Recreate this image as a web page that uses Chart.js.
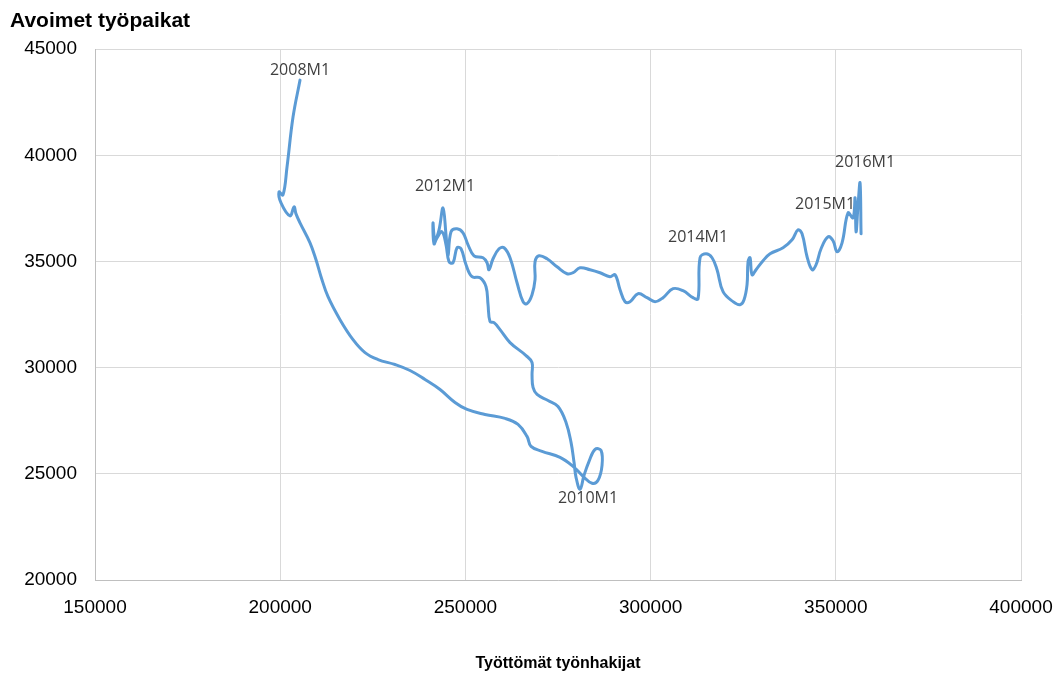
<!DOCTYPE html>
<html lang="fi">
<head>
<meta charset="utf-8">
<title>Beveridge-käyrä</title>
<script src="https://cdn.jsdelivr.net/npm/chart.js@4.4.1/dist/chart.umd.min.js"></script>
<style>
    html, body { margin: 0; padding: 0; background: #ffffff; }
    #chart-wrap { position: relative; width: 1061px; height: 675px; }
</style>
</head>
<body>
<div id="chart-wrap"><canvas id="beveridge-chart"></canvas></div>
<script>
// Työttömät työnhakijat (x) ja avoimet työpaikat (y), luettu kuvasta
const unemployed = [
    205350, 203460, 201840, 200760, 199680, 200220, 202650, 203730, 204270, 205350,
    208050, 209670, 211020, 212910, 216150, 219660, 222900, 226410, 231000, 235050,
    239100, 243150, 247200, 250440, 255300, 260700, 264210, 266640, 267720, 270690,
    275550, 279060, 281760, 284190, 285810, 286890, 286620, 285000, 283380, 282030,
    280950, 279870, 279330, 278520, 277170, 275010, 272310, 269340, 268260, 267990,
    267990, 266370, 262050, 259350, 257730, 256650, 256110, 255570, 253950, 251790,
    250170, 248820, 247740, 246660, 245580, 244770, 243690, 242340, 241530, 241260,
    241800, 242880, 243960, 244770, 245310, 246120, 247740, 249360, 250710, 252330,
    254760, 255840, 256380, 257460, 259080, 260430, 262050, 263940, 265560, 266640,
    267990, 268800, 268800, 269880, 272040, 274740, 277440, 279060, 280950, 283650,
    286350, 289050, 290400, 291750, 293100, 294450, 296610, 299040, 301200, 303360,
    306060, 308760, 311460, 312810, 313350, 314970, 316590, 317940, 319560, 322260,
    324150, 325230, 326040, 326310, 326850, 327390, 328470, 330360, 332250, 335760,
    338190, 339810, 340890, 342240, 343590, 344670, 346020, 347910, 349260, 350340,
    351690, 353310, 354660, 355200, 355470, 356010, 356550, 356820
];
const vacancies = [
    43543, 41804, 39454, 38138, 38279, 37762, 37151, 37574, 37245, 36822,
    35882, 35083, 34284, 33344, 32263, 31323, 30712, 30383, 30148, 29866,
    29443, 28973, 28362, 28033, 27798, 27610, 27328, 26764, 26294, 26059,
    25777, 25354, 24884, 24555, 24696, 25401, 26106, 26153, 25589, 24931,
    24273, 24837, 25542, 26482, 27422, 28174, 28456, 28738, 29067, 29678,
    30242, 30571, 31182, 31793, 32122, 32169, 32968, 33814, 34237, 34284,
    34848, 35600, 35647, 34942, 34989, 35788, 36399, 36117, 35835, 36822,
    36023, 36493, 37527, 36258, 35271, 36399, 36540, 36352, 35788, 35271,
    35177, 34942, 34613, 35130, 35600, 35647, 35177, 34002, 33109, 33015,
    33438, 34143, 34989, 35271, 35130, 34754, 34425, 34472, 34707, 34613,
    34472, 34284, 34378, 33673, 33109, 33109, 33485, 33297, 33109, 33297,
    33720, 33626, 33297, 33250, 35177, 35365, 35177, 34613, 33579, 33109,
    32968, 33203, 33908, 34989, 35177, 34378, 34613, 35036, 35365, 35647,
    36023, 36493, 36305, 35224, 34613, 34848, 35600, 36164, 35976, 35459,
    35882, 37292, 37057, 37997, 36399, 37668, 38702, 36305
];

// Kuukausimerkinnät ja niiden pisteet
const pointLabels = ['2008M1', '2010M1', '2012M1', '2014M1', '2015M1', '2016M1'];
const labelIndex = [0, 40, 72, 114, 137, 146];

// Akselien jaotus
const xTicks = [150000, 200000, 250000, 300000, 350000, 400000];
const yTicks = [20000, 25000, 30000, 35000, 40000, 45000];

const points = unemployed.map(function(x, i) {
    return { x: x, y: vacancies[i] };
});

/**
 * Piirtää kuukausimerkinnät viivan viereen
 */
const monthLabelPlugin = {
    id: 'monthLabels',
    afterDatasetsDraw: function(chart, args, opts) {
        const meta = chart.getDatasetMeta(0);
        const ctx = chart.ctx;
        ctx.save();
        ctx.font = opts.font;
        ctx.fillStyle = opts.color;
        ctx.textAlign = 'center';
        ctx.textBaseline = 'middle';
        pointLabels.forEach(function(text, k) {
            const el = meta.data[labelIndex[k]];
            if (!el) return;
            const off = opts.offsets[k] || [0, -20];
            ctx.fillText(text, el.x + off[0], el.y + off[1]);
        });
        ctx.restore();
    }
};

new Chart(document.getElementById('beveridge-chart'), {
    type: 'scatter',
    data: {
        datasets: [{
            data: points,
            showLine: true,
            borderColor: '#5b9bd5',
            backgroundColor: '#5b9bd5',
            borderWidth: 3,
            pointRadius: 0,
            pointHoverRadius: 0,
            tension: 0.4,
            borderCapStyle: 'round',
            borderJoinStyle: 'round'
        }]
    },
    options: {
        responsive: true,
        maintainAspectRatio: false,
        animation: false,
        layout: {
            padding: { left: 10, right: 40, top: 0, bottom: 0 }
        },
        plugins: {
            legend: { display: false },
            tooltip: { enabled: false },
            title: {
                display: true,
                text: 'Avoimet työpaikat',
                align: 'start',
                color: '#000000',
                font: { family: 'Liberation Sans, Arial, sans-serif', size: 21, weight: 'bold' },
                padding: { top: 9, bottom: 15 }
            },
            monthLabels: {
                font: '16px "Open Sans", sans-serif',
                color: '#404040',
                offsets: [[0, -10], [8, 9], [2, -21], [-2, -20], [-3, -32], [5, -20]]
            }
        },
        scales: {
            x: {
                type: 'linear',
                min: xTicks[0],
                max: xTicks[xTicks.length - 1],
                afterBuildTicks: function(axis) {
                    axis.ticks = xTicks.map(function(v) { return { value: v }; });
                },
                afterFit: function(axis) {
                    axis.paddingLeft = 0;
                    axis.paddingRight = 0;
                },
                grid: { color: '#d9d9d9', drawTicks: false },
                border: { color: '#bfbfbf' },
                ticks: {
                    color: '#000000',
                    padding: 16,
                    maxRotation: 0,
                    font: { family: 'Liberation Sans, Arial, sans-serif', size: 19 },
                    callback: function(v) { return String(v); }
                },
                title: {
                    display: true,
                    text: 'Työttömät työnhakijat',
                    color: '#000000',
                    font: { family: 'Liberation Sans, Arial, sans-serif', size: 16, weight: 'bold' },
                    padding: { top: 19, bottom: 2 }
                }
            },
            y: {
                type: 'linear',
                min: yTicks[0],
                max: yTicks[yTicks.length - 1],
                afterBuildTicks: function(axis) {
                    axis.ticks = yTicks.map(function(v) { return { value: v }; });
                },
                afterFit: function(axis) {
                    axis.width = 85;
                },
                grid: { color: '#d9d9d9', drawTicks: false },
                border: { color: '#bfbfbf' },
                ticks: {
                    color: '#000000',
                    padding: 18,
                    font: { family: 'Liberation Sans, Arial, sans-serif', size: 19 },
                    callback: function(v) { return String(v); }
                }
            }
        }
    },
    plugins: [monthLabelPlugin]
});
</script>
</body>
</html>
